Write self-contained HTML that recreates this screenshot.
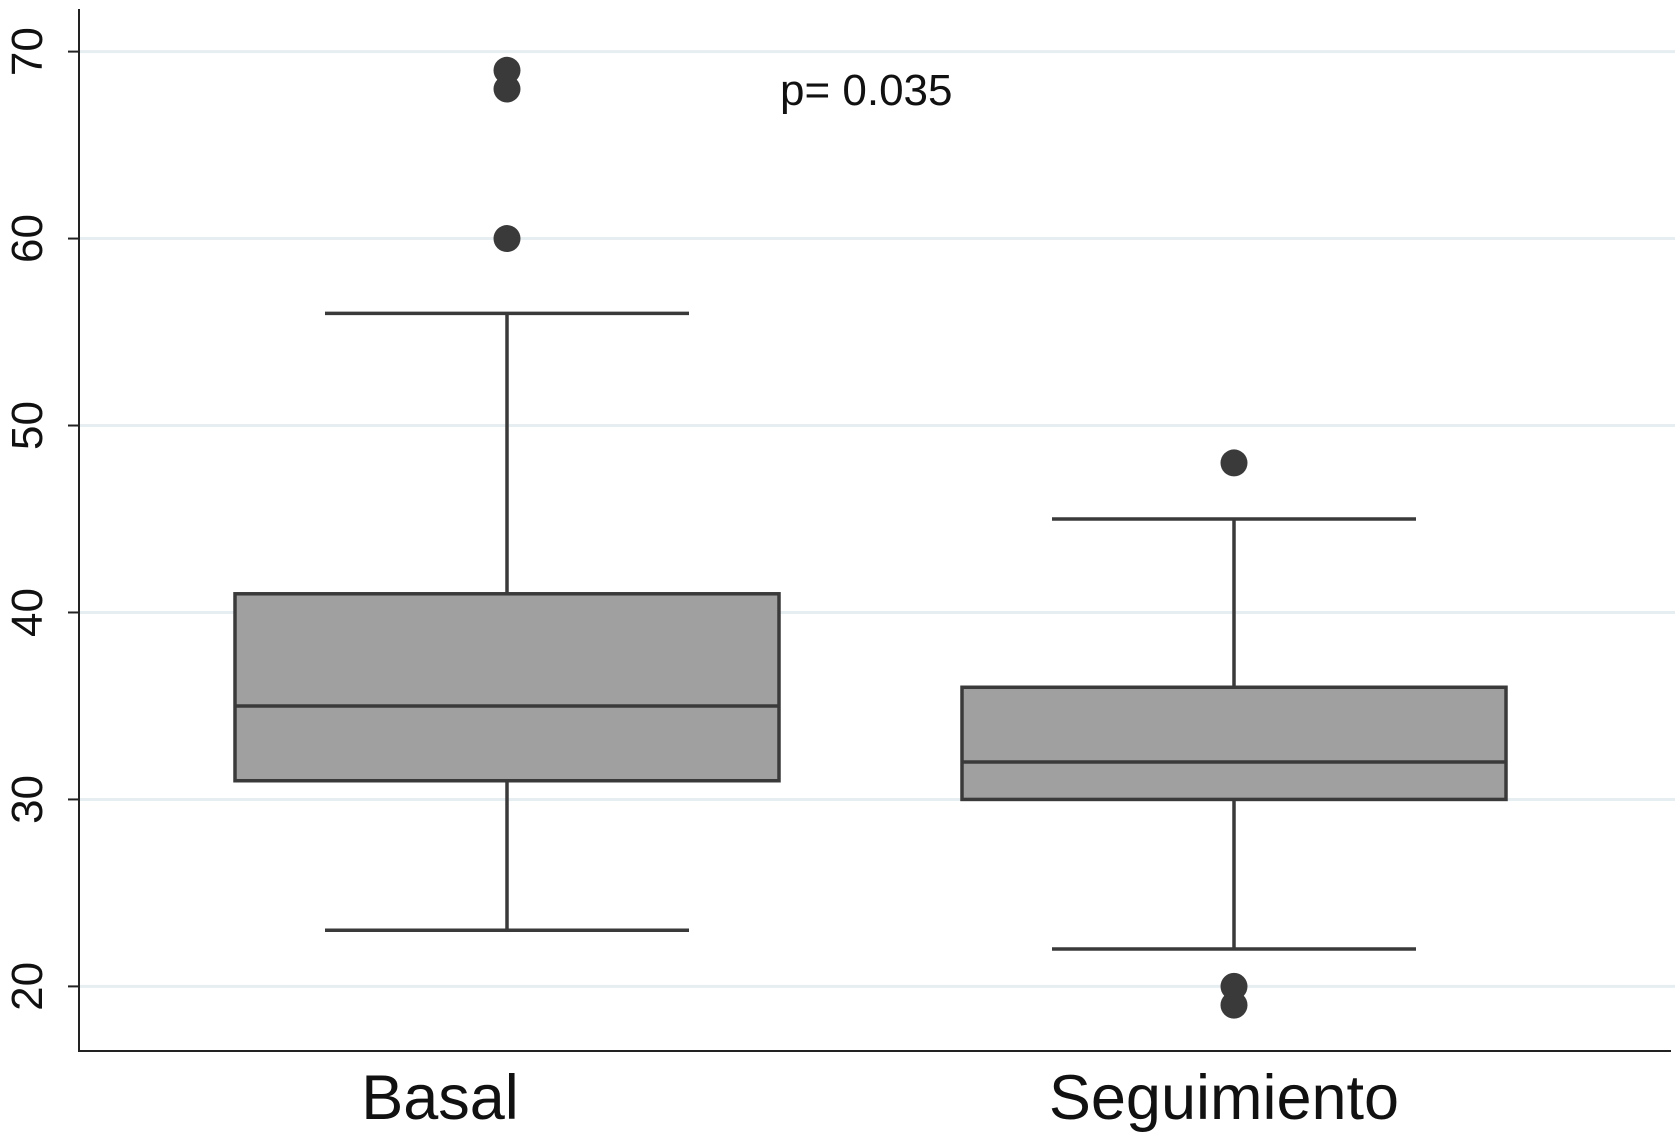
<!DOCTYPE html>
<html><head><meta charset="utf-8"><style>
body{margin:0;background:#fff;}
svg{display:block;font-family:"Liberation Sans",sans-serif;}
</style></head><body>
<svg id="chart" width="1675" height="1139"></svg>
<script>
const categories=["Basal","Seguimiento"];
const whiskerLow=[23,22];
const q1=[31,30];
const medians=[35,32];
const q3=[41,36];
const whiskerHigh=[56,45];
const outliers=[[60,68,69],[48,20,19]];
const yTicks=[20,30,40,50,60,70];
const NS="http://www.w3.org/2000/svg";
const svg=document.getElementById("chart");
const y=v=>986.4-(v-20)*(986.4-51.6)/50;
const cx=[507,1234];
const labelX=[440,1224];
const halfBox=272, halfCap=182;
function mk(t,a,p){const e=document.createElementNS(NS,t);for(const k in a)e.setAttribute(k,a[k]);(p||svg).appendChild(e);return e;}
yTicks.forEach(v=>{
 const g=mk("line",{x1:79,x2:1675,y1:y(v),y2:y(v),stroke:"#e6eef2","stroke-width":3});
 
 
 const tk=mk("line",{x1:68,x2:79,y1:y(v),y2:y(v),stroke:"#222","stroke-width":2});
 
 
 const t=mk("text",{x:0,y:0,transform:`translate(42,${y(v)}) rotate(-90)`,"text-anchor":"middle","font-size":44,fill:"#111"});
 t.textContent=v;
 
 
});
const ax=mk("path",{d:"M79,9 V1051 H1671",fill:"none",stroke:"#222","stroke-width":2});


categories.forEach((c,i)=>{
 const x=cx[i];
 const w=mk("line",{x1:x,x2:x,y1:y(whiskerLow[i]),y2:y(whiskerHigh[i]),stroke:"#3a3a3a","stroke-width":3.5});
 
 
 [whiskerLow[i],whiskerHigh[i]].forEach(v=>{
  const cap=mk("line",{x1:x-halfCap,x2:x+halfCap,y1:y(v),y2:y(v),stroke:"#3a3a3a","stroke-width":3.5});
  
  
 });
 const b=mk("rect",{x:x-halfBox,y:y(q3[i]),width:2*halfBox,height:y(q1[i])-y(q3[i]),fill:"#a0a0a0",stroke:"#3a3a3a","stroke-width":3.5});
 
 
 const m=mk("line",{x1:x-halfBox,x2:x+halfBox,y1:y(medians[i]),y2:y(medians[i]),stroke:"#3a3a3a","stroke-width":3.5});
 
 
 outliers[i].forEach(v=>{
  const o=mk("circle",{cx:x,cy:y(v),r:13.5,fill:"#3a3a3a"});
  
  
 });
 const l=mk("text",{x:labelX[i],y:1119,"text-anchor":"middle","font-size":63,fill:"#111"});
 l.textContent=c;
 
 
});
const p=mk("text",{x:780,y:105,"font-size":44,fill:"#111"});
p.textContent="p= 0.035";


</script>
</body></html>
